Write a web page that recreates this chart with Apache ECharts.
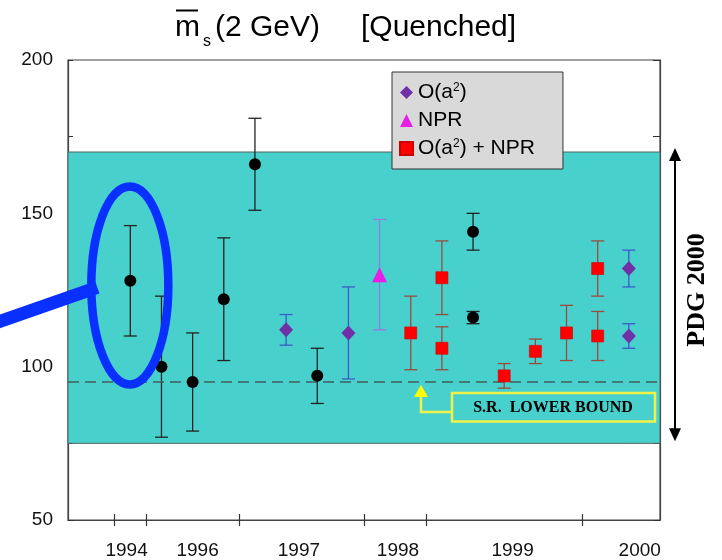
<!DOCTYPE html>
<html><head><meta charset="utf-8">
<script src="https://cdn.jsdelivr.net/npm/echarts@6/dist/echarts.min.js"></script>
<style>html,body{margin:0;padding:0;background:#fff}#c{width:722px;height:560px}</style>
</head><body><div id="c"></div>
<script>
// ---- data ----
const yearLabels = ['1994', '1996', '1997', '1998', '1999', '2000'];
const yearLabelPos = [-0.12, 2.16, 5.41, 8.59, 12.27, 16.35];
const yearTickPos = [-0.5, 0.5, 3.5, 7.5, 9.5, 14.5];
const yTickLabels = [50, 100, 150, 200];
const pdgBand = [75, 170];
const srLowerBound = 95;

const otherX = [0, 1, 2, 3, 4, 6, 11, 11];
const otherVal = [128, 100, 95, 122, 166, 97, 144, 116];
const otherLo = [110, 77, 79, 102, 151, 88, 138, 114];
const otherHi = [146, 123, 111, 142, 181, 106, 150, 118];

const oa2X = [5, 7, 16, 16];
const oa2Val = [112, 111, 132, 110];
const oa2Lo = [107, 96, 126, 106];
const oa2Hi = [117, 126, 138, 114];

const nprX = [8];
const nprVal = [130];
const nprLo = [112];
const nprHi = [148];

const bothX = [9, 10, 10, 12, 13, 14, 15, 15];
const bothVal = [111, 129, 106, 97, 105, 111, 132, 110];
const bothLo = [99, 117, 99, 93, 101, 102, 123, 102];
const bothHi = [123, 141, 113, 101, 109, 120, 141, 118];

const seriesNames = ['O(a2)', 'NPR', 'O(a2) + NPR'];

// ---- chart ----
const chart = echarts.init(document.getElementById('c'), null, {renderer: 'canvas'});
const FONT = '"Liberation Sans", Arial, sans-serif';
const SERIF = '"Liberation Serif", "Times New Roman", serif';

function errSeries(xs, lo, hi, color, name) {
  return {
    type: 'custom', name: name, z: 3, silent: true,
    data: xs.map((x, i) => [x, lo[i], hi[i]]),
    encode: {x: 0, y: [1, 2]},
    renderItem: function (params, api) {
      const x = api.value(0);
      const a = api.coord([x, api.value(1)]);
      const b = api.coord([x, api.value(2)]);
      const w = 6.5;
      const st = {stroke: color, lineWidth: 1.3};
      return {type: 'group', children: [
        {type: 'line', shape: {x1: a[0], y1: a[1], x2: b[0], y2: b[1]}, style: st},
        {type: 'line', shape: {x1: a[0] - w, y1: a[1], x2: a[0] + w, y2: a[1]}, style: st},
        {type: 'line', shape: {x1: b[0] - w, y1: b[1], x2: b[0] + w, y2: b[1]}, style: st}
      ]};
    }
  };
}
function pts(xs, vs) { return xs.map((x, i) => [x, vs[i]]); }

const axisColor = '#444';
const option = {
  animation: false,
  backgroundColor: '#fff',
  grid: {left: 68, right: 62, top: 60, bottom: 39, show: true, borderColor: axisColor, borderWidth: 1.2, backgroundColor: 'transparent'},
  legend: {
    data: seriesNames, orient: 'vertical', left: 392, top: 72, z: 10,
    backgroundColor: '#d9d9d9', borderColor: '#333', borderWidth: 1,
    padding: [10, 28, 10, 7], itemGap: 7, itemWidth: 13, itemHeight: 13, selectedMode: false,
    textStyle: {fontSize: 21, color: '#000', fontFamily: FONT,
      rich: {sup: {fontSize: 12, verticalAlign: 'top', fontFamily: FONT, color: '#000'}}},
    formatter: n => n.replace('a2', 'a{sup|2}')
  },
  xAxis: [
    {type: 'value', min: -2, max: 17, position: 'bottom',
      axisLine: {show: true, onZero: false, lineStyle: {color: axisColor, width: 1.2}},
      axisTick: {show: true, inside: false, length: 6, customValues: yearTickPos, lineStyle: {color: '#333', width: 1.2}},
      axisLabel: {customValues: yearLabelPos, fontSize: 19, color: '#111', fontFamily: FONT, margin: 21,
        formatter: function (v) {
          const i = yearLabelPos.findIndex(p => Math.abs(p - v) < 1e-6);
          return i >= 0 ? yearLabels[i] : '';
        }},
      splitLine: {show: false}},
    {type: 'value', min: -2, max: 17, position: 'bottom',
      axisLine: {show: false, onZero: false},
      axisTick: {show: true, inside: true, length: 6, customValues: yearTickPos, lineStyle: {color: '#333', width: 1.2}},
      axisLabel: {show: false}, splitLine: {show: false}}
  ],
  yAxis: [
    {type: 'value', min: 50, max: 200, interval: 25, position: 'left',
      axisLine: {show: true, onZero: false, lineStyle: {color: axisColor, width: 1.2}},
      axisTick: {show: true, inside: true, length: 5, lineStyle: {color: '#333'}},
      axisLabel: {customValues: yTickLabels, fontSize: 19, color: '#111', fontFamily: FONT, margin: 15},
      splitLine: {show: false}},
    {type: 'value', min: 50, max: 200, interval: 25, position: 'right',
      axisLine: {show: true, onZero: false, lineStyle: {color: axisColor, width: 1.2}},
      axisTick: {show: true, inside: true, length: 7, lineStyle: {color: '#333'}},
      axisLabel: {show: false}, splitLine: {show: false}}
  ],
  series: [
    {type: 'scatter', name: 'band', data: [], z: 1, silent: true,
      markArea: {silent: true, itemStyle: {color: '#48d1cc', borderColor: '#4f6464', borderWidth: 1},
        data: [[{yAxis: pdgBand[0]}, {yAxis: pdgBand[1]}]]},
      markLine: {silent: true, symbol: 'none', label: {show: false},
        lineStyle: {type: [11, 6], color: '#3f5e5e', width: 1.5},
        data: [{yAxis: srLowerBound}]}},
    errSeries(otherX, otherLo, otherHi, '#222', 'e0'),
    errSeries(oa2X, oa2Lo, oa2Hi, '#3d5bc9', 'e1'),
    errSeries(nprX, nprLo, nprHi, '#9a78dc', 'e2'),
    errSeries(bothX, bothLo, bothHi, '#9c4a3e', 'e3'),
    {type: 'scatter', name: 'other', data: pts(otherX, otherVal), symbol: 'circle', symbolSize: 12, z: 5,
      itemStyle: {color: '#000', opacity: 1}},
    {type: 'scatter', name: seriesNames[0], data: pts(oa2X, oa2Val), symbol: 'diamond', symbolSize: [14, 15], z: 5,
      itemStyle: {color: '#7030a8', opacity: 1}},
    {type: 'scatter', name: seriesNames[1], data: pts(nprX, nprVal), symbol: 'triangle', symbolSize: 15, z: 5,
      itemStyle: {color: '#e61ee6', opacity: 1}},
    {type: 'scatter', name: seriesNames[2], data: pts(bothX, bothVal), symbol: 'rect', symbolSize: 12, z: 5,
      itemStyle: {color: '#ff0000', borderColor: '#d00000', borderWidth: 0.6, opacity: 1}}
  ]
};
chart.setOption(option);

// ---- annotations ----
const P = (x, y) => chart.convertToPixel({xAxisIndex: 0, yAxisIndex: 0}, [x, y]);
const c0 = P(otherX[0], 126.5);
const bandTop = P(0, pdgBand[1])[1];
const bandBot = P(0, pdgBand[0])[1];
const srY = P(0, srLowerBound)[1];
const blue = '#0a30ff';
const yellow = '#eef24a';
const arrowX = 675;

chart.setOption({
  graphic: [
    // title
    {type: 'text', x: 175, y: 28, z: 100, style: {text: 'm', fontSize: 30, fontFamily: FONT, fill: '#000', align: 'left', verticalAlign: 'middle'}},
    {type: 'line', z: 100, shape: {x1: 176, y1: 10.5, x2: 198, y2: 10.5}, style: {stroke: '#000', lineWidth: 2}},
    {type: 'text', x: 203, y: 42, z: 100, style: {text: 's', fontSize: 16, fontFamily: FONT, fill: '#000', align: 'left', verticalAlign: 'middle'}},
    {type: 'text', x: 215, y: 28, z: 100, style: {text: '(2 GeV)', fontSize: 30, fontFamily: FONT, fill: '#000', align: 'left', verticalAlign: 'middle'}},
    {type: 'text', x: 361, y: 28, z: 100, style: {text: '[Quenched]', fontSize: 30, fontFamily: FONT, fill: '#000', align: 'left', verticalAlign: 'middle'}},
    // blue ellipse + pointer
    {type: 'ellipse', z: 100, shape: {cx: c0[0] - 0.5, cy: c0[1], rx: 38.5, ry: 99}, style: {fill: 'none', stroke: blue, lineWidth: 8.5}},
    {type: 'line', z: 100, shape: {x1: -6, y1: c0[1] + 38, x2: c0[0] - 33, y2: c0[1] + 2}, style: {stroke: blue, lineWidth: 13}},
    // PDG double arrow
    {type: 'line', z: 100, shape: {x1: arrowX, y1: bandTop + 6, x2: arrowX, y2: bandBot - 6}, style: {stroke: '#000', lineWidth: 2}},
    {type: 'polygon', z: 100, shape: {points: [[arrowX, bandTop - 4], [arrowX - 6, bandTop + 9], [arrowX + 6, bandTop + 9]]}, style: {fill: '#000'}},
    {type: 'polygon', z: 100, shape: {points: [[arrowX, bandBot - 2], [arrowX - 6, bandBot - 15], [arrowX + 6, bandBot - 15]]}, style: {fill: '#000'}},
    {type: 'text', x: 697, y: 290, rotation: Math.PI / 2, z: 100, style: {text: 'PDG 2000', fontSize: 26, fontWeight: 'bold', fontFamily: SERIF, fill: '#000', align: 'center', verticalAlign: 'middle'}},
    // S.R. lower bound box + arrow
    {type: 'rect', z: 100, shape: {x: 452, y: srY + 11, width: 203, height: 28.5}, style: {fill: 'none', stroke: yellow, lineWidth: 2.5}},
    {type: 'text', x: 553, y: srY + 25.5, z: 100, style: {text: 'S.R.  LOWER BOUND', fontSize: 16, fontWeight: 'bold', fontFamily: SERIF, fill: '#000', align: 'center', verticalAlign: 'middle'}},
    {type: 'polyline', z: 100, shape: {points: [[452, srY + 30], [421, srY + 30], [421, srY + 13]]}, style: {fill: 'none', stroke: yellow, lineWidth: 2.5}},
    {type: 'polygon', z: 100, shape: {points: [[421, srY + 3], [414, srY + 15], [428, srY + 15]]}, style: {fill: '#ffff00'}}
  ]
});
</script>
</body></html>
